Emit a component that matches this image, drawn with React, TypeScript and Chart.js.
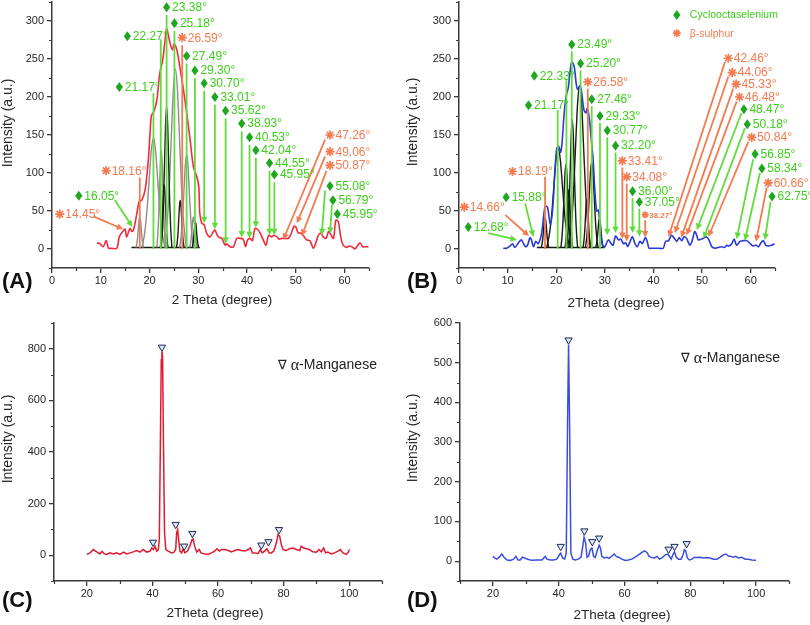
import { useEffect, useRef } from 'react';
import { Chart, registerables } from 'chart.js';

Chart.register(...registerables);

const SANS = '"Liberation Sans", Arial, sans-serif';
const AXIS = '#3a3a3a';
const TICK = '#262626';
const SE_TEXT = '#3ccf1a';
const SE_MARK = '#1fa61f';
const SE_LINE = '#62dc3c';
const S_TEXT = '#f47a50';
const S_LINE = '#f47a50';

// ---------- Panel A ----------
const A_THETA = [9.2,9.8,10.5,11.1,11.6,12.2,13.3,13.8,14.5,15.0,15.3,16.0,16.4,16.8,17.4,17.9,18.4,19.1,19.75,20.1,20.4,20.9,21.5,22.1,22.7,23.2,23.5,23.8,24.2,24.7,25.0,25.6,26.2,26.9,27.6,28.3,29.0,29.7,30.1,30.3,30.7,31.2,31.7,32.4,33.1,33.4,34.1,34.8,35.5,35.8,36.5,37.2,37.9,38.6,39.2,39.7,40.1,40.6,41.1,41.6,42.1,42.7,43.3,43.9,44.4,45.0,45.5,46.1,46.6,47.1,47.8,48.5,49.1,49.6,50.0,50.5,50.9,51.5,52.2,52.9,53.6,54.3,54.6,55.1,55.6,56.2,56.7,57.0,57.7,58.2,58.7,59.2,59.7,60.4,61.0,61.7,62.1,62.6,63.2,63.7,64.2,64.9];
const A_INTENSITY = [8,7,3,11,1,1,1,16,23,26,16,27,23,27,47,63,64,78,117,152,176,181,196,231,249,275,290,283,271,262,270,262,240,212,180,145,108,95,82,47,34,32,21,16,23,25,16,14,5,7,3,3,14,14,13,3,12,14,11,27,26,21,12,5,18,16,18,16,13,14,14,14,21,30,29,21,21,18,12,11,1,12,18,21,16,14,23,21,14,38,36,16,5,2,4,2,0,4,8,3,3,3];
// fitted component peaks: [theta, intensity] points
const A_FIT_GRAY = [
  [[17.22,2],[17.4,7],[17.55,15],[17.7,26],[17.85,37],[18.0,42],[18.15,37],[18.3,26],[18.45,15],[18.6,7],[18.78,2]],
  [[18.46,2],[19.0,21],[19.45,49],[19.9,89],[20.35,129],[20.8,146],[21.25,129],[21.7,89],[22.15,49],[22.6,21],[23.14,2]],
  [[21.49,2],[21.7,19],[21.88,44],[22.05,80],[22.23,115],[22.4,130],[22.58,115],[22.75,80],[22.93,44],[23.1,19],[23.31,2]],
  [[23.09,2],[23.6,34],[24.03,78],[24.45,145],[24.88,209],[25.3,237],[25.73,209],[26.15,145],[26.58,78],[27.0,34],[27.51,2]],
  [[26.17,2],[26.5,18],[26.78,42],[27.05,76],[27.33,110],[27.6,124],[27.88,110],[28.15,76],[28.43,42],[28.7,18],[29.03,2]],
  [[28.22,2],[28.4,7],[28.55,15],[28.7,26],[28.85,37],[29.0,42],[29.15,37],[29.3,26],[29.45,15],[29.6,7],[29.78,2]],
];
const A_FIT_BLACK = [
  [[22.41,2],[22.66,27],[22.87,62],[23.08,114],[23.29,165],[23.5,187],[23.71,165],[23.92,114],[24.13,62],[24.34,27],[24.59,2]],
  [[22.22,2],[22.4,13],[22.55,29],[22.7,52],[22.85,75],[23.0,85],[23.15,75],[23.3,52],[23.45,29],[23.6,13],[23.78,2]],
  [[25.52,2],[25.7,10],[25.85,22],[26.0,40],[26.15,57],[26.3,64],[26.45,57],[26.6,40],[26.75,22],[26.9,10],[27.08,2]],
  [[28.75,2],[28.9,7],[29.03,13],[29.15,23],[29.28,32],[29.4,36],[29.53,32],[29.65,23],[29.78,13],[29.9,7],[30.05,2]],
];
const A_FIT_BASE = [[16.3,2],[30.3,2]];
// [label, phase, markerX, markerY, lineX0, lineY0, lineX1, lineY1, arrow]
const A_PEAKS: any[] = [
  ['23.38°','Se',23.5,318,23.5,308,23.5,0,0],
  ['25.18°','Se',25.1,297,25.1,287,25.1,0,0],
  ['22.27°','Se',15.45,280,22.3,276,22.3,0,0],
  ['26.59°','S',26.7,278,26.7,268,26.7,0,0],
  ['27.49°','Se',27.6,254,27.6,244,27.6,0,0],
  ['29.30°','Se',29.3,235,29.3,225,29.3,0,0],
  ['30.70°','Se',31.2,218,31.2,208,31.2,34,1],
  ['33.01°','Se',33.4,200,33.4,190,33.4,26,1],
  ['35.62°','Se',35.6,182,35.6,172,35.6,7,1],
  ['38.93°','Se',38.9,165,38.9,155,38.9,15,1],
  ['40.53°','Se',40.5,147,40.5,137,40.5,14,1],
  ['42.04°','Se',41.8,130,41.8,120,41.8,28,1],
  ['44.55°','Se',44.6,113,44.6,103,44.6,18,1],
  ['45.95°','Se',45.6,98,45.6,88,45.6,18,1],
  ['21.17°','Se',13.8,213,20.8,205,20.8,0,0],
  ['18.16°','S',11.1,103,18.0,94,18.0,0,0],
  ['16.05°','Se',5.5,70,12.9,64,16.5,29,1],
  ['14.45°','S',1.6,46,8.5,43,14.6,26,1],
  ['47.26°','S',57.0,150,56.0,144,47.4,12,1],
  ['49.06°','S',57.0,128,56.0,122,50.2,34,1],
  ['50.87°','S',57.0,110,56.3,103,51.2,17,1],
  ['55.08°','Se',57.0,83,56.0,77,55.3,18,1],
  ['56.79°','Se',57.6,64,57.4,58,57.0,20,1],
  ['45.95°','Se',58.5,46,58.5,46,58.5,46,0],
];
const AB_X_TICKS = [0,10,20,30,40,50,60];
const AB_X_MINOR = [5,15,25,35,45,55,65];
const AB_Y_TICKS = [0,50,100,150,200,250,300];
const AB_Y_MINOR = [-25,25,75,125,175,225,275,325];

// ---------- Panel B ----------
const B_THETA = [9.1,9.8,10.5,11.0,11.5,12.2,12.8,13.2,13.7,14.1,14.6,14.9,15.3,15.8,16.3,17.0,17.7,18.2,18.8,19.3,19.7,20.1,20.5,20.9,21.2,21.6,22.0,22.5,22.8,23.2,23.7,24.1,24.4,24.9,25.2,25.7,26.1,26.4,26.8,27.3,27.6,27.9,28.3,28.7,29.0,29.5,30.0,30.7,31.3,31.7,32.2,32.8,33.3,33.8,34.3,34.7,35.2,35.7,36.2,36.7,37.2,37.7,38.3,38.7,39.1,39.6,41.0,42.0,42.5,43.1,43.7,44.3,44.8,45.3,45.8,46.3,46.8,47.5,48.0,48.5,48.9,49.2,49.9,50.5,50.9,51.4,52.0,52.7,53.3,54.0,54.6,55.1,55.5,56.1,56.6,57.1,57.8,58.5,59.2,59.9,60.5,61.1,61.6,62.1,62.6,63.1,63.6,64.3,64.9];
const B_INTENSITY = [1,1,4,7,2,8,12,8,3,5,15,12,3,10,7,21,56,55,32,55,100,132,135,127,140,176,200,213,231,246,240,218,210,215,207,183,179,185,172,138,117,82,50,51,29,5,3,12,7,5,17,12,13,7,8,3,10,16,7,3,10,7,15,10,1,1,1,1,10,11,18,14,10,15,11,16,14,5,12,23,18,12,13,15,16,12,3,1,2,3,2,5,4,7,13,5,10,11,11,7,4,5,3,8,11,5,4,5,7];
const B_FIT = [
  [[16.92,2],[17.1,7],[17.25,15],[17.4,26],[17.55,37],[17.7,42],[17.85,37],[18.0,26],[18.15,15],[18.3,7],[18.48,2]],
  [[18.06,2],[18.6,20],[19.05,44],[19.5,81],[19.95,117],[20.4,132],[20.85,117],[21.3,81],[21.75,44],[22.2,20],[22.74,2]],
  [[20.96,2],[21.2,17],[21.4,38],[21.6,69],[21.8,99],[22.0,112],[22.2,99],[22.4,69],[22.6,38],[22.8,17],[23.04,2]],
  [[21.82,2],[22.0,12],[22.15,27],[22.3,48],[22.45,69],[22.6,78],[22.75,69],[22.9,48],[23.05,27],[23.2,12],[23.38,2]],
  [[22.21,2],[22.46,25],[22.67,57],[22.88,104],[23.09,150],[23.3,170],[23.51,150],[23.72,104],[23.93,57],[24.14,25],[24.39,2]],
  [[22.59,2],[23.1,31],[23.53,71],[23.95,131],[24.38,190],[24.8,215],[25.23,190],[25.65,131],[26.08,71],[26.5,31],[27.01,2]],
  [[25.52,2],[25.7,11],[25.85,22],[26.0,40],[26.15,58],[26.3,65],[26.45,58],[26.6,40],[26.75,22],[26.9,11],[27.08,2]],
  [[26.0,2],[26.3,17],[26.55,39],[26.8,71],[27.05,102],[27.3,115],[27.55,102],[27.8,71],[28.05,39],[28.3,17],[28.6,2]],
  [[28.12,2],[28.3,7],[28.45,14],[28.6,25],[28.75,36],[28.9,40],[29.05,36],[29.2,25],[29.35,14],[29.5,7],[29.68,2]],
];
const B_FIT_BASE = [[16.0,2],[30.0,2]];
const B_PEAKS: any[] = [
  ['23.49°','Se',23.2,269,23.2,260,23.2,0,0],
  ['25.20°','Se',25.0,244,25.0,235,25.0,0,0],
  ['22.33°','Se',15.5,228,22.1,222,22.1,0,0],
  ['26.58°','S',26.5,220,26.5,211,26.5,0,0],
  ['27.46°','Se',27.3,197,27.3,188,27.3,0,0],
  ['21.17°','Se',14.3,189,20.3,183,20.3,0,0],
  ['29.33°','Se',29.0,175,29.0,166,29.0,0,0],
  ['30.77°','Se',30.5,156,30.5,147,30.5,18,1],
  ['32.20°','Se',32.2,136,32.2,127,32.2,21,1],
  ['33.41°','S',33.6,116,33.6,107,33.6,13,1],
  ['34.08°','S',34.5,95,34.5,86,34.5,10,1],
  ['36.00°','Se',35.7,76,35.7,67,35.7,21,1],
  ['37.05°','Se',37.1,62,37.1,53,37.1,16,1],
  ['38.27°','S',38.3,45,38.3,38,38.3,15,1],
  ['12.68°','Se',1.9,29,6.0,21,11.9,12,1],
  ['15.88°','Se',9.7,68,13.6,60,15.3,16,1],
  ['14.66°','S',1.1,55,9.5,45,14.4,17,1],
  ['18.19°','S',11.0,102,17.7,95,17.7,0,0],
  ['42.46°','S',55.4,251,54.7,246,43.1,16,1],
  ['44.06°','S',56.2,232,55.4,227,44.4,21,1],
  ['45.33°','S',57.0,217,56.4,211,45.7,15,1],
  ['46.48°','S',57.7,200,57.1,194,46.8,18,1],
  ['48.47°','Se',58.6,184,58.1,179,48.9,25,1],
  ['50.18°','Se',59.3,164,58.8,159,50.3,14,1],
  ['50.84°','S',60.2,147,59.5,141,51.3,16,1],
  ['56.85°','Se',60.9,125,60.5,118,57.1,13,1],
  ['58.34°','Se',62.3,106,61.9,100,58.8,11,1],
  ['60.66°','S',63.6,87,63.3,81,61.1,10,1],
  ['62.75°','Se',64.4,69,64.1,62,62.9,12,1],
];
const B_SMALL_LABELS = ['38.27°'];
const B_LEGEND: any[] = [['Cyclooctaselenium','Se',44.8,308],['β-sulphur','S',44.8,284]];

// ---------- Panel C ----------
const C_THETA = [20,21,22,23,24,24.6,25.3,26,27.1,28.1,29.1,30.1,31.2,32.2,33.2,34.2,35.2,36.2,37.2,38.3,39.3,39.8,40.3,40.8,41.3,41.8,42.1,42.4,42.7,42.9,43.1,43.4,43.7,44.1,44.8,45.9,46.6,47.1,47.4,47.7,48.0,48.4,48.9,49.4,49.9,50.7,51.4,52.1,52.4,52.9,53.5,54.3,54.8,55.7,57.0,58.0,59.0,59.7,60.4,61.1,62.1,63.1,64.1,65.1,66.1,67.1,68.2,69.2,69.9,70.5,71.2,72.2,72.9,73.5,74.2,74.9,75.6,76.3,77.0,77.8,78.3,78.8,79.3,79.8,80.8,81.8,82.9,83.9,84.9,85.4,86.1,86.9,87.9,88.9,90.0,90.8,91.5,92.2,92.8,93.5,94.5,95.5,96.6,97.3,98.1,99.1,99.6,100.1];
const C_INTENSITY = [3,9,22,13,5,15,6,3,9,5,9,3,12,5,9,13,18,12,22,12,16,28,22,35,16,22,61,397,758,790,771,397,87,22,16,9,12,22,87,99,61,16,9,25,9,16,35,61,63,35,12,22,9,6,3,9,16,25,16,22,22,18,13,18,22,18,16,22,28,9,9,6,22,9,16,25,9,9,16,48,80,74,41,22,18,25,28,22,18,35,28,25,22,13,12,22,13,28,9,12,5,9,16,22,9,3,9,22];
const C_MARK_X = [40.2,42.9,47.1,49.7,52.2,73.2,75.4,78.6];
const C_MARK_Y = [50,806,119,35,84,39,52,99];
const CD_X_TICKS = [20,40,60,80,100];
const CD_X_MINOR = [10,30,50,70,90,110];
const C_Y_TICKS = [0,200,400,600,800];
const C_Y_MINOR = [-100,100,300,500,700,900];

// ---------- Panel D ----------
const D_THETA = [20,20.5,21.2,21.9,22.7,23.4,24.3,25.3,26.3,27.0,27.6,28.3,29.0,29.6,30.6,31.8,33.4,34.9,35.9,36.4,37.4,38.4,39.4,40.2,40.6,41.2,41.8,42.3,42.7,43.0,43.3,43.7,44.3,45.0,46.0,46.8,47.3,47.7,48.2,48.6,49.1,49.6,50.1,50.6,51.1,51.8,52.3,52.7,53.1,53.8,54.6,55.3,56.2,56.9,57.5,58.2,59.2,60.2,61.2,62.2,63.2,64.3,65.3,66.1,66.8,67.5,68.3,69.1,69.9,70.6,71.5,72.4,73.1,73.6,74.2,74.7,75.2,75.7,76.4,77.2,77.8,78.2,78.6,79.1,79.7,80.5,81.3,82.0,83.0,84.0,85.0,86.0,87.0,88.1,89.1,90.1,90.8,91.6,92.4,93.1,93.8,94.6,95.6,96.7,97.7,98.7,100];
const D_INTENSITY = [12,8,5,10,18,10,3,2,5,12,3,3,10,8,5,2,3,3,12,5,3,3,5,16,20,8,5,20,356,545,356,20,5,3,5,10,37,60,45,10,13,29,33,12,9,29,40,33,12,8,10,7,13,18,12,10,5,2,3,5,10,16,22,26,22,12,9,8,12,5,9,16,18,13,5,16,24,10,5,5,16,29,26,8,3,5,10,9,10,8,9,8,5,5,10,16,18,13,12,10,12,8,10,5,5,3,2];
const D_MARK_X = [40.6,43.0,47.8,50.2,52.3,73.4,75.2,78.9];
const D_MARK_Y = [37,557,76,49,58,30,37,44];
const D_Y_TICKS = [0,100,200,300,400,500,600];
const D_Y_MINOR = [-50,50,150,250,350,450,550];

// ---------- helpers ----------
const pts = (xs: number[], ys: number[]) => xs.map((x, i) => ({ x, y: ys[i] }));
const pairs = (p: number[][]) => p.map(([x, y]) => ({ x, y }));
const curve = (data: any[], color: string, width: number, extra: any = {}) => ({
  data, borderColor: color, borderWidth: width, pointRadius: 0, fill: false, tension: 0, ...extra,
});
const fitCurve = (p: number[][], color: string) =>
  curve(pairs(p), color, 1.4, { cubicInterpolationMode: 'monotone', order: 2 });
const markers = (xs: number[], ys: number[]) => ({
  data: pts(xs, ys), showLine: false, pointStyle: 'triangle', rotation: 180, pointRadius: 4.2,
  pointBackgroundColor: '#dbe6f3', pointBorderColor: '#1c2a55', pointBorderWidth: 1, order: 0,
});

function drawDiamond(ctx: CanvasRenderingContext2D, x: number, y: number) {
  ctx.fillStyle = SE_MARK;
  ctx.beginPath();
  ctx.moveTo(x, y - 5); ctx.lineTo(x + 3.6, y); ctx.lineTo(x, y + 5); ctx.lineTo(x - 3.6, y);
  ctx.closePath(); ctx.fill();
}
function drawStar(ctx: CanvasRenderingContext2D, x: number, y: number, r = 4.6) {
  ctx.strokeStyle = S_TEXT; ctx.lineWidth = 1.7;
  ctx.beginPath();
  for (let k = 0; k < 4; k++) {
    const a = Math.PI / 2 + (k * Math.PI) / 4;
    ctx.moveTo(x + r * Math.cos(a), y + r * Math.sin(a));
    ctx.lineTo(x - r * Math.cos(a), y - r * Math.sin(a));
  }
  ctx.stroke();
}
function arrowHead(ctx: CanvasRenderingContext2D, x0: number, y0: number, x1: number, y1: number, color: string) {
  const a = Math.atan2(y1 - y0, x1 - x0); const L = 6.5, W = 3.2;
  ctx.fillStyle = color; ctx.beginPath();
  ctx.moveTo(x1, y1);
  ctx.lineTo(x1 - L * Math.cos(a) + W * Math.sin(a), y1 - L * Math.sin(a) - W * Math.cos(a));
  ctx.lineTo(x1 - L * Math.cos(a) - W * Math.sin(a), y1 - L * Math.sin(a) + W * Math.cos(a));
  ctx.closePath(); ctx.fill();
}

const decor = (p: any) => ({
  id: 'decor' + p.letter,
  afterDatasetsDraw(chart: any) {
    const ctx: CanvasRenderingContext2D = chart.ctx;
    const X = (v: number) => chart.scales.x.getPixelForValue(v);
    const Y = (v: number) => chart.scales.y.getPixelForValue(v);
    ctx.save();
    for (const a of p.peaks || []) {
      const [, phase, , , x0, y0, x1, y1, arrow] = a;
      if (x0 === x1 && y0 === y1) continue;
      const col = phase === 'Se' ? SE_LINE : S_LINE;
      const X0 = X(x0), Y0 = Y(y0), X1 = X(x1), Y1 = Y(y1);
      const ang = Math.atan2(Y1 - Y0, X1 - X0);
      const back = arrow ? 5 : 0;
      ctx.strokeStyle = col; ctx.lineWidth = 1.8;
      ctx.beginPath(); ctx.moveTo(X0, Y0);
      ctx.lineTo(X1 - back * Math.cos(ang), Y1 - back * Math.sin(ang)); ctx.stroke();
      if (arrow) arrowHead(ctx, X0, Y0, X1, Y1, col);
    }
    ctx.textBaseline = 'middle'; ctx.textAlign = 'left';
    for (const a of p.peaks || []) {
      const [label, phase, mx, my] = a;
      const cx = X(mx), cy = Y(my);
      const small = (p.small || []).includes(label);
      if (phase === 'Se') drawDiamond(ctx, cx, cy); else drawStar(ctx, cx, cy, small ? 3.5 : 4.6);
      ctx.fillStyle = phase === 'Se' ? SE_TEXT : S_TEXT;
      ctx.font = small ? `bold 8px ${SANS}` : `12px ${SANS}`;
      ctx.fillText(label, cx + (small ? 4 : 5.5), cy + 0.5);
    }
    for (const l of p.legend || []) {
      const [label, phase, mx, my] = l;
      const cx = X(mx), cy = Y(my);
      if (phase === 'Se') drawDiamond(ctx, cx, cy); else drawStar(ctx, cx, cy, 4);
      ctx.fillStyle = phase === 'Se' ? SE_TEXT : S_TEXT;
      ctx.font = `10.5px ${SANS}`;
      ctx.fillText(label, cx + 13, cy + 0.5);
    }
    if (p.mnLegend) {
      const x = X(p.mnLegend[0]), y = Y(p.mnLegend[1]);
      ctx.fillStyle = '#222';
      ctx.font = '13px "DejaVu Sans"'; ctx.fillText('∇', x, y);
      let w = ctx.measureText('∇').width + 4;
      ctx.font = '16px "Liberation Serif"'; ctx.fillText('α', x + w, y);
      w += ctx.measureText('α').width;
      ctx.font = `14px ${SANS}`; ctx.fillText('-Manganese', x + w, y);
    }
    ctx.restore();
  },
  afterDraw(chart: any) {
    const ctx: CanvasRenderingContext2D = chart.ctx;
    const xs = chart.scales.x, ys = chart.scales.y;
    ctx.save();
    ctx.strokeStyle = AXIS; ctx.lineWidth = 1.2;
    ctx.beginPath();
    for (const v of p.xMinor) {
      if (v < p.xMin || v > p.xMax) continue;
      const px = Math.round(xs.getPixelForValue(v)) + 0.5;
      ctx.moveTo(px, xs.top); ctx.lineTo(px, xs.top + 3);
    }
    for (const v of p.yMinor) {
      if (v < p.yMin || v > p.yMax) continue;
      const py = Math.round(ys.getPixelForValue(v)) + 0.5;
      ctx.moveTo(ys.right, py); ctx.lineTo(ys.right - 3, py);
    }
    ctx.stroke();
    ctx.fillStyle = TICK; ctx.textAlign = 'center'; ctx.textBaseline = 'middle';
    ctx.font = `13.5px ${SANS}`;
    ctx.fillText(p.xTitle, p.xTitlePos[0], p.xTitlePos[1]);
    ctx.save();
    ctx.translate(p.yTitlePos[0], p.yTitlePos[1]); ctx.rotate(-Math.PI / 2);
    ctx.font = `14px ${SANS}`;
    ctx.fillText('Intensity (a.u.)', 0, 0);
    ctx.restore();
    ctx.fillStyle = '#111'; ctx.textAlign = 'left';
    ctx.font = `bold 22px ${SANS}`;
    ctx.fillText(`(${p.letter})`, 2, p.letterY);
    ctx.restore();
  },
});

function zeroPad(s: any) {
  s.paddingTop = 0; s.paddingBottom = 0; s.paddingLeft = 0; s.paddingRight = 0;
}

function buildConfig(p: any): any {
  const tickFont = { family: SANS, size: 11 };
  return {
    type: 'line',
    data: { datasets: p.datasets },
    options: {
      animation: false, responsive: false, events: [],
      layout: { padding: p.padding },
      plugins: { legend: { display: false }, tooltip: { enabled: false } },
      scales: {
        x: {
          type: 'linear', min: p.xMin, max: p.xMax,
          afterBuildTicks: (s: any) => { s.ticks = p.xTicks.map((v: number) => ({ value: v })); },
          afterFit: (s: any) => { s.height = p.xHeight; zeroPad(s); },
          border: { display: true, color: AXIS, width: 1.5 },
          grid: { display: true, drawOnChartArea: false, drawTicks: true, tickLength: 5, color: AXIS, lineWidth: 1.3 },
          ticks: { font: tickFont, color: TICK, padding: 1, maxRotation: 0, autoSkip: false },
        },
        y: {
          type: 'linear', min: p.yMin, max: p.yMax,
          afterBuildTicks: (s: any) => { s.ticks = p.yTicks.map((v: number) => ({ value: v })); },
          afterFit: (s: any) => { s.width = p.yWidth; zeroPad(s); },
          border: { display: true, color: AXIS, width: 1.5 },
          grid: { display: true, drawOnChartArea: false, drawTicks: true, tickLength: 5, color: AXIS, lineWidth: 1.3 },
          ticks: { font: tickFont, color: TICK, padding: 3, autoSkip: false },
        },
      },
    },
    plugins: [decor(p)],
  };
}

const PANELS: any[] = [
  {
    letter: 'A', left: 0, top: 0, w: 405, h: 312,
    padding: { left: 0, right: 36, top: 2, bottom: 0 }, yWidth: 52, xHeight: 44,
    xMin: 0, xMax: 65, yMin: -25, yMax: 325,
    xTicks: AB_X_TICKS, xMinor: AB_X_MINOR, yTicks: AB_Y_TICKS, yMinor: AB_Y_MINOR,
    xTitle: '2 Theta (degree)', xTitlePos: [222, 300], yTitlePos: [8, 123], letterY: 282,
    peaks: A_PEAKS,
    datasets: [
      curve(pts(A_THETA, A_INTENSITY), '#ef2b3c', 1.6, { tension: 0.3, order: 0 }),
      ...A_FIT_BLACK.map((f) => fitCurve(f, '#1e1e1e')),
      ...A_FIT_GRAY.map((f) => fitCurve(f, '#8d8d8d')),
      curve(pairs(A_FIT_BASE), '#1e1e1e', 1.4, { order: 2 }),
    ],
  },
  {
    letter: 'B', left: 405, top: 0, w: 405, h: 312,
    padding: { left: 0, right: 35, top: 2, bottom: 0 }, yWidth: 54, xHeight: 44,
    xMin: 0, xMax: 65, yMin: -25, yMax: 325,
    xTicks: AB_X_TICKS, xMinor: AB_X_MINOR, yTicks: AB_Y_TICKS, yMinor: AB_Y_MINOR,
    xTitle: '2Theta (degree)', xTitlePos: [211, 303], yTitlePos: [8, 122], letterY: 282,
    peaks: B_PEAKS, small: B_SMALL_LABELS, legend: B_LEGEND,
    datasets: [
      curve(pts(B_THETA, B_INTENSITY), '#2a39d6', 1.6, { tension: 0.3, order: 0 }),
      ...B_FIT.map((f) => fitCurve(f, '#1a1a1a')),
      curve(pairs(B_FIT_BASE), '#1a1a1a', 1.4, { order: 2 }),
    ],
  },
  {
    letter: 'C', left: 0, top: 312, w: 405, h: 313,
    padding: { left: 0, right: 23, top: 11, bottom: 0 }, yWidth: 54, xHeight: 44,
    xMin: 10, xMax: 110, yMin: -100, yMax: 900,
    xTicks: CD_X_TICKS, xMinor: CD_X_MINOR, yTicks: C_Y_TICKS, yMinor: C_Y_MINOR,
    xTitle: '2Theta (degree)', xTitlePos: [215, 301], yTitlePos: [8, 127], letterY: 289,
    mnLegend: [78.3, 736],
    datasets: [
      curve(pts(C_THETA, C_INTENSITY), '#e01b30', 1.5, { order: 1 }),
      markers(C_MARK_X, C_MARK_Y),
    ],
  },
  {
    letter: 'D', left: 405, top: 312, w: 405, h: 313,
    padding: { left: 0, right: 21, top: 11, bottom: 0 }, yWidth: 55, xHeight: 44,
    xMin: 10, xMax: 110, yMin: -50, yMax: 600,
    xTicks: CD_X_TICKS, xMinor: CD_X_MINOR, yTicks: D_Y_TICKS, yMinor: D_Y_MINOR,
    xTitle: '2Theta (degree)', xTitlePos: [217, 303], yTitlePos: [8, 126], letterY: 289,
    mnLegend: [77.2, 511],
    datasets: [
      curve(pts(D_THETA, D_INTENSITY), '#3b4de0', 1.5, { order: 1 }),
      markers(D_MARK_X, D_MARK_Y),
    ],
  },
];

function Panel({ cfg }: { cfg: any }) {
  const ref = useRef<HTMLCanvasElement>(null);
  useEffect(() => {
    const chart = new Chart(ref.current as HTMLCanvasElement, buildConfig(cfg));
    return () => chart.destroy();
  }, [cfg]);
  return (
    <canvas
      ref={ref}
      width={cfg.w}
      height={cfg.h}
      style={{ position: 'absolute', left: cfg.left, top: cfg.top, width: cfg.w, height: cfg.h }}
    />
  );
}

export default function App() {
  return (
    <div style={{ position: 'fixed', left: 0, top: 0, width: 810, height: 625, background: '#fff', overflow: 'hidden' }}>
      {PANELS.map((p) => <Panel key={p.letter} cfg={p} />)}
    </div>
  );
}
